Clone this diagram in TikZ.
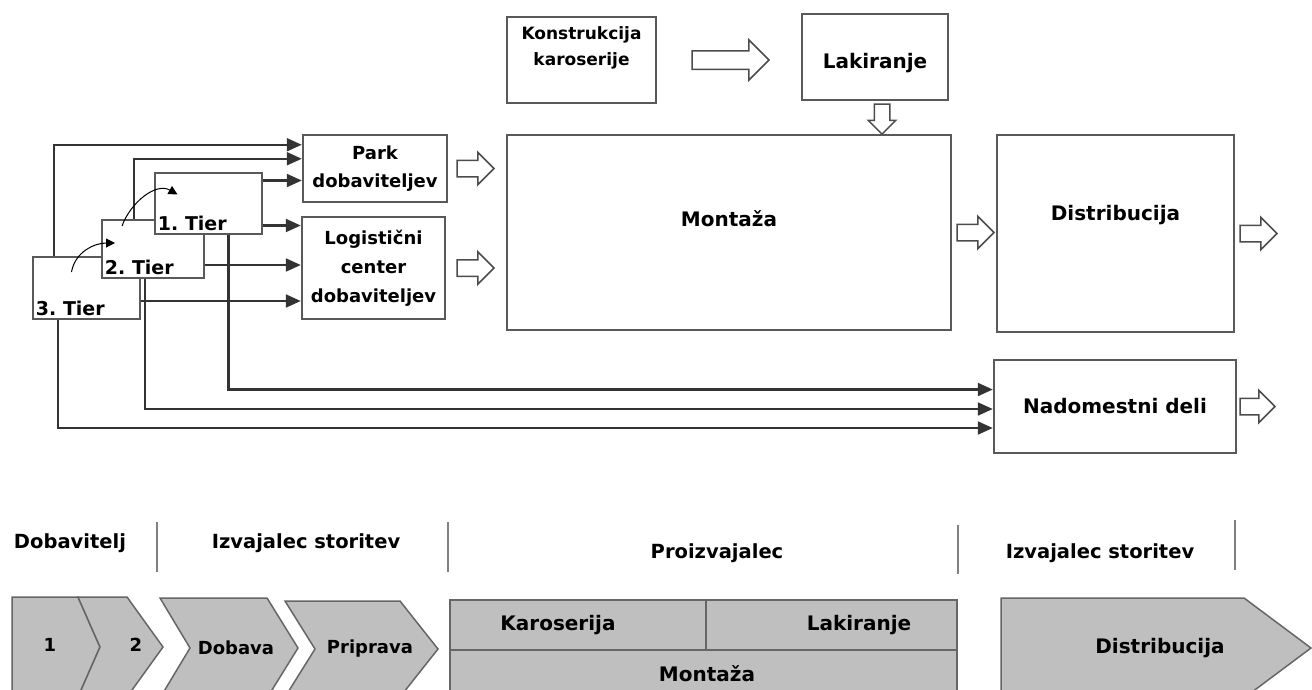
\documentclass[tikz,border=0pt]{standalone}
\usepackage{fontspec}
\setmainfont{DejaVu Sans}
\usepackage{tikz}
\usetikzlibrary{arrows.meta,positioning,shapes.arrows,calc}
\newcommand{\fsz}[2]{\fontsize{#1}{#2}\selectfont\bfseries}

\begin{document}
\begin{tikzpicture}[x=1pt,y=-1pt,>={Triangle[length=15pt,width=13pt]},line join=miter]
\tikzstyle{box}=[rectangle,draw=black!65,line width=2.5pt,fill=white,inner sep=0pt,align=center,font=\fsz{20}{24}]
\tikzstyle{tierlbl}=[font=\fsz{19}{22},anchor=south west,inner sep=4pt]
\tikzstyle{lbl}=[font=\fsz{20}{24},inner sep=0pt]
\tikzstyle{hollow}=[single arrow,draw=black!70,line width=1.5pt,fill=white,inner sep=7.5pt,single arrow head extend=8pt,minimum height=37pt]
\tikzstyle{link}=[->,draw=black!80,line width=2.2pt]
\tikzstyle{chev}=[fill=black!25,draw=black!60,line width=1.5pt]
\tikzstyle{sep}=[draw=black!50,line width=2.5pt]

\useasboundingbox (0,0) rectangle (1312,689);

\node[box,minimum width=149pt,minimum height=86pt,
  label={[lbl,font=\fsz{17}{26},align=center,anchor=north,yshift=-11pt]north:Konstrukcija\\karoserije}] (KK) at (581.5,60) {};
\node[box,minimum width=146pt,minimum height=86pt,
  label={[lbl,yshift=-6pt]center:Lakiranje}] (LK) at (875,57) {};
\node[box,minimum width=444pt,minimum height=195pt,
  label={[lbl,yshift=14pt]center:Montaža}] (MO) at (729,232.5) {};
\node[box,minimum width=237pt,minimum height=197pt,
  label={[lbl,yshift=18pt]center:Distribucija}] (DI) at (1115.5,233.5) {};
\node[box,minimum width=242pt,minimum height=93pt] (ND) at (1115,406.5) {Nadomestni deli};
\node[box,minimum width=144pt,minimum height=67pt,font=\fsz{18}{28}] (PD) at (375,168.5) {Park\\dobaviteljev};
\node[box,minimum width=143pt,minimum height=102pt,font=\fsz{18}{29}] (LC) at (373.5,268) {Logistični\\center\\dobaviteljev};

\node[box,minimum width=107pt,minimum height=62pt,label={[tierlbl]south west:3.\ Tier}] (T3) at (86.5,288) {};
\node[box,minimum width=102pt,minimum height=58pt,label={[tierlbl]south west:2.\ Tier}] (T2) at (153,249) {};
\node[box,minimum width=107pt,minimum height=61pt,label={[tierlbl]south west:1.\ Tier}] (T1) at (208.5,203.5) {};

\node[hollow,minimum height=77pt,inner sep=8.5pt,single arrow head extend=11pt,right=34pt of KK] (H1) {};
\node[hollow,shape border rotate=270,minimum height=30pt,inner sep=7pt,single arrow head extend=6pt] (H3) at ($(LK.south)+(7,14)$) {};
\node[hollow,right=8pt of PD] (H2) {};
\node[hollow,right=10pt of LC] (H4) {};
\node[hollow,right=4pt of MO] (H5) {};
\node[hollow,right=4pt of DI] (H6) {};
\node[hollow,minimum height=35pt,right=2pt of ND] (H7) {};

\draw[link] ([xshift=22pt]T3.north west) |- ([yshift=-11pt]PD.north west);
\draw[link] ([xshift=33pt]T2.north west) |- ([yshift=-25pt]PD.north west);
\draw[link] ([yshift=23pt]T1.east) -- ([yshift=23pt]T1.east -| PD.west);
\draw[link] ([yshift=-22pt]T1.east) -- ([yshift=-22pt]T1.east -| LC.west);
\draw[link] ([yshift=-16pt]T2.east) -- ([yshift=-16pt]T2.east -| LC.west);
\draw[link] ([yshift=-13pt]T3.east) -- ([yshift=-13pt]T3.east -| LC.west);
\draw[link] ([xshift=20pt]T1.south) |- ([yshift=17pt]ND.west);
\draw[link] ([xshift=-8pt]T2.south) |- ([yshift=-2.5pt]ND.west);
\draw[link] ([xshift=-28.5pt]T3.south) |- ([yshift=-21.5pt]ND.west);

\draw[->,>={Triangle[length=9pt,width=9pt]},line width=1pt] ([shift={(-15pt,16pt)}]T3.center) to[out=80,in=180] ([shift={(-38pt,6pt)}]T2.center);
\draw[->,>={Triangle[length=9pt,width=9pt]},line width=1pt] ([shift={(-31pt,23pt)}]T2.center) to[out=70,in=150] ([shift={(-31pt,9pt)}]T1.center);

\node[font=\fsz{19.5}{24}] (HD1) at (70,543) {Dobavitelj};
\node[font=\fsz{19.5}{24}] (HD2) at (306,543) {Izvajalec storitev};
\node[font=\fsz{19.5}{24}] (HD3) at (717,553) {Proizvajalec};
\node[font=\fsz{19.5}{24}] (HD4) at (1100,553) {Izvajalec storitev};
\draw[sep] (157,522) -- (157,572);
\draw[sep] (448,522) -- (448,572);
\draw[sep] (958,525) -- (958,574);
\draw[sep] (1235,520) -- (1235,570);

\filldraw[chev] (12,597) -- (78,597) -- (100,647) -- (78,697) -- (12,697) -- cycle;
\filldraw[chev] (78,597) -- (127,597) -- (163,647) -- (127,697) -- (78,697) -- (100,647) -- cycle;
\filldraw[chev] (160,598) -- (267,598) -- (298,648) -- (267,698) -- (160,698) -- (190,648) -- cycle;
\filldraw[chev] (285,601) -- (400,601) -- (438,649) -- (400,697) -- (285,697) -- (315,649) -- cycle;
\filldraw[chev] (450,600) rectangle (957,700);
\draw[chev] (450,650) -- (957,650) (706,600) -- (706,650);
\filldraw[chev] (1001,598) -- (1244,598) -- (1311,648) -- (1244,698) -- (1001,698) -- cycle;

\node[font=\fsz{18}{22}] (C1) at (50,645) {1};
\node[font=\fsz{18}{22}] (C2) at (136,645) {2};
\node[font=\fsz{18}{22}] (C3) at (236,648) {Dobava};
\node[font=\fsz{18}{22}] (C4) at (370,649) {Priprava};
\node[font=\fsz{20}{24}] (C5) at (558,625) {Karoserija};
\node[font=\fsz{20}{24}] (C6) at (859,625) {Lakiranje};
\node[font=\fsz{20}{24}] (C7) at (707,674) {Montaža};
\node[font=\fsz{20}{24}] (C8) at (1160,648) {Distribucija};
\end{tikzpicture}
\end{document}
